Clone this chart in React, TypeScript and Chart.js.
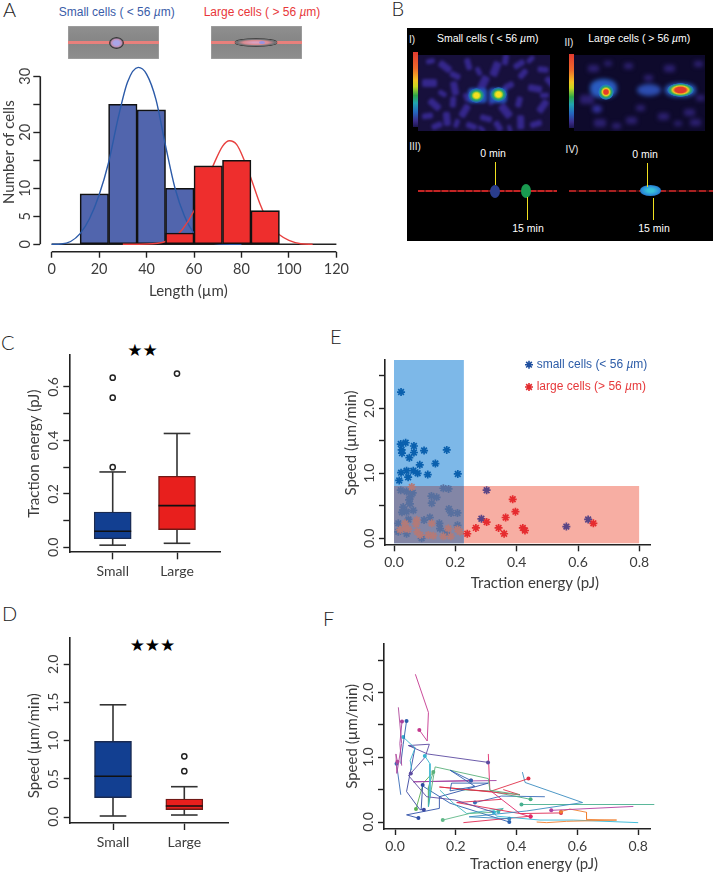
import React, { useEffect, useRef } from 'react';
import { Chart, registerables } from 'chart.js';
import { drawPoint } from 'chart.js/helpers';

Chart.register(...registerables);
Chart.defaults.font.family = 'Lato';

// ---------- Panel A ----------
const smallBins = [[18, 9], [30, 25], [42, 24], [54, 10]];
const largeBins = [[54, 2], [66, 14], [78, 15], [90, 6]];
const smallCurve = [[0, 0], [4, 0.05], [8, 0.5], [12, 1.9], [16, 4.6], [20, 8.8], [24, 14.6], [28, 22.5], [32, 29], [36.5, 31.6], [40, 30.4], [44, 25.8], [48, 17.6], [52, 10], [56, 5], [60, 2], [64, 0.7], [70, 0.1], [80, 0]];
const largeCurve = [[30, 0], [40, 0.05], [48, 0.5], [52, 1.4], [55, 2.6], [60, 6], [64, 10], [68, 14], [72, 17.5], [75, 18.5], [78, 17.8], [81, 15.2], [84, 11.8], [88, 7], [92, 3.4], [96, 1.7], [100, 0.7], [105, 0.1], [110, 0]];
const histX = [0, 20, 40, 60, 80, 100, 120];
const histY = [0, 5, 10, 15, 20, 25, 30];
const histYLabels = [0, 5, 10, 20, 30];

// ---------- Panels C, D ----------
const groups = ['Small', 'Large'];
const energySmall = [0.008, 0.032, 0.06, 0.132, 0.282];
const energyLarge = [0.015, 0.066, 0.156, 0.266, 0.426];
const energySmallOut = [0.3, 0.56, 0.635];
const energyLargeOut = [0.65];
const energyTicks = [0, 0.1, 0.2, 0.3, 0.4, 0.5, 0.6];
const energyLabels = [0, 0.2, 0.4, 0.6];
const speedSmall = [0.013, 0.253, 0.533, 0.99, 1.47];
const speedLarge = [0.026, 0.096, 0.144, 0.236, 0.397];
const speedSmallOut: number[] = [];
const speedLargeOut = [0.6, 0.795];
const speedTicks = [0, 0.5, 1, 1.5, 2];

// ---------- Panel E ----------
const smallStars = [[0.023, 2.25], [0.022, 1.45], [0.038, 1.47], [0.065, 1.42], [0.025, 1.36], [0.026, 1.31], [0.065, 1.32], [0.05, 1.24], [0.098, 1.35], [0.172, 1.36], [0.135, 1.15], [0.084, 1.13], [0.041, 1.04], [0.023, 1.01], [0.063, 1.04], [0.077, 1.0], [0.11, 0.98], [0.208, 0.99], [0.046, 0.94], [0.017, 0.89], [0.022, 0.74], [0.041, 0.72], [0.061, 0.7], [0.054, 0.64], [0.049, 0.59], [0.122, 0.65], [0.139, 0.63], [0.123, 0.54], [0.052, 0.53], [0.161, 0.77], [0.178, 0.76], [0.03, 0.48], [0.026, 0.4], [0.041, 0.41], [0.063, 0.43], [0.179, 0.45], [0.186, 0.39], [0.207, 0.39], [0.117, 0.32], [0.098, 0.28], [0.047, 0.29], [0.148, 0.23], [0.207, 0.2], [0.014, 0.23], [0.15, 0.15], [0.17, 0.08], [0.014, 0.1], [0.041, 0.07], [0.09, 0.0], [0.302, 0.74], [0.285, 0.3], [0.562, 0.18], [0.633, 0.29]];
const largeStars = [[0.058, 0.79], [0.387, 0.6], [0.396, 0.41], [0.364, 0.32], [0.302, 0.25], [0.267, 0.16], [0.341, 0.16], [0.359, 0.07], [0.42, 0.16], [0.427, 0.12], [0.239, 0.07], [0.65, 0.23], [0.036, 0.23], [0.074, 0.28], [0.072, 0.22], [0.123, 0.23], [0.177, 0.15], [0.02, 0.13], [0.047, 0.14], [0.076, 0.1], [0.112, 0.05], [0.128, 0.04], [0.161, 0.03], [0.185, 0.03], [0.207, 0.14], [0.215, 0.1], [0.036, 0.15], [0.085, 0.05]];
const smallZone = [0, 0.228, 2.75];
const largeZone = [0.228, 0.8, 0.804];
const overlapZone = [0, 0.228, 0.804];
const zoneFloor = -0.077;
const legendLabels = ['small cells (< 56 ', 'large cells (> 56 '];
const scatterX = [0, 0.2, 0.4, 0.6, 0.8];
const scatterY = [0, 0.5, 1, 1.5, 2, 2.5];
const scatterYLabels = [0, 1, 2];

// ---------- Panel F ----------
const track01 = [[0.08, 1.42], [0.106, 1.25], [0.11, 1.69], [0.067, 2.28]];
const track02 = [[0.023, 1.55], [0.016, 1.21], [0.022, 0.87]];
const track03 = [[0.008, 0.93], [0.003, 1.05], [0.006, 0.75], [0.022, 1.21], [0.011, 1.77]];
const track04 = [[0.038, 1.56], [0.027, 1.2], [0.019, 0.9]];
const track05 = [[0.005, 0.9], [0.019, 0.42]];
const track06 = [[0.098, 1.02], [0.115, 0.9], [0.115, 0.4], [0.11, 0.24]];
const track07 = [[0.027, 1.31], [0.066, 1.14], [0.05, 0.95], [0.055, 0.8]];
const track08 = [[0.306, 0.92], [0.107, 1.05], [0.044, 1.18], [0.113, 1.2], [0.099, 1.0], [0.052, 0.75]];
const track09 = [[0.052, 0.75], [0.044, 0.72], [0.104, 0.39], [0.197, 0.34], [0.325, 0.15]];
const track10 = [[0.095, 0.19], [0.082, 0.19], [0.038, 0.47], [0.066, 1.15], [0.044, 1.18]];
const track11 = [[0.25, 0.64], [0.181, 0.8], [0.263, 0.55], [0.181, 0.48], [0.186, 0.6], [0.307, 0.6]];
const track12 = [[0.126, 0.77], [0.11, 0.54], [0.11, 0.24], [0.132, 0.85], [0.307, 0.67], [0.312, 0.49], [0.411, 0.42]];
const track13 = [[0.446, 0.08], [0.411, 0.13], [0.312, 0.49], [0.307, 1.05]];
const track14 = [[0.439, 0.67], [0.312, 0.47], [0.146, 0.54], [0.258, 0.49], [0.411, 0.42], [0.356, 0.5]];
const track15 = [[0.376, 0.05], [0.244, 0.08], [0.433, 0.17], [0.617, 0.3], [0.428, 0.61], [0.419, 0.77]];
const track16 = [[0.416, 0.27], [0.853, 0.27]];
const track17 = [[0.514, 0.18], [0.784, 0.24]];
const track18 = [[0.546, 0.16], [0.575, 0.2], [0.63, 0.15], [0.63, 0.04], [0.729, 0.03], [0.564, 0.01], [0.499, -0.01], [0.466, 0.0]];
const track19 = [[0.325, 0.15], [0.334, 0.09], [0.477, 0.03], [0.586, 0.03], [0.8, -0.01]];
const track20 = [[0.546, 0.14], [0.411, 0.13], [0.203, 0.3], [0.35, 0.35]];
const track21 = [[0.446, 0.09], [0.225, -0.01]];
const track22 = [[0.157, 0.03], [0.244, 0.13], [0.323, 0.15], [0.356, 0.2]];
const track23 = [[0.34, 0.16], [0.356, 0.21], [0.236, 0.13], [0.192, 0.29], [0.148, 0.49]];
const track24 = [[0.077, 0.06], [0.038, 0.11], [0.146, 0.21], [0.146, 0.39], [0.307, 0.6]];
const track25 = [[0.091, 0.57], [0.086, 0.19]];
const track26 = [[0.25, 0.64], [0.06, 0.62], [0.334, 0.64]];
const track27 = [[0.069, 0.2], [0.093, 0.6], [0.126, 0.77]];
const track28 = [[0.376, 0.0], [0.181, 0.29], [0.093, 0.55]];
const track29 = [[0.446, 0.35], [0.307, 0.48], [0.203, 0.5]];
const track30 = [[0.263, 0.3], [0.35, 0.4], [0.493, 0.39]];
const trackList = [track01, track02, track03, track04, track05, track06, track07, track08, track09, track10, track11, track12, track13, track14, track15, track16, track17, track18, track19, track20, track21, track22, track23, track24, track25, track26, track27, track28, track29, track30];
const trackColors = ['#c4388e', '#a8409c', '#b0489c', '#2a5caa', '#3a6cb8', '#38b4d0', '#38b4d0', '#5b4aa0', '#5b4aa0', '#3a46a0', '#2f5fae', '#5ab07a', '#e0286a', '#e03048', '#3a8cc0', '#48b090', '#b040a0', '#f08030', '#30b8d8', '#e02850', '#e02850', '#60b888', '#40b8c0', '#3050a8', '#2c4aa0', '#a040a0', '#5ab050', '#2a60b0', '#48b080', '#3a6cb8'];

// ---------- helpers ----------
const INK = '#222';
const TXT = '#3c3c3c';
const nbsp = (n: number) => '\u00a0'.repeat(n);
const fixed1 = (v: number) => v.toFixed(1);

function axisBase(o: any) {
  return {
    type: 'linear', min: o.min, max: o.max, offset: false, beginAtZero: false,
    afterBuildTicks: (s: any) => { s.ticks = o.ticks.map((value: number) => ({ value })); },
    grid: { display: true, offset: false, drawOnChartArea: false, tickLength: o.tickLength, tickWidth: 1.4, tickColor: INK, color: INK },
    border: { display: o.border !== false, color: INK, width: 1.6 },
  };
}
function xAxis(o: any) {
  return {
    ...axisBase(o),
    afterFit: (s: any) => { s.height = o.fit; },
    ticks: { autoSkip: false, minRotation: 0, maxRotation: 0, padding: o.pad, color: TXT, font: { size: o.size || 14 }, callback: o.label },
    title: o.title ? { display: true, text: o.title, color: TXT, font: { size: 15 }, padding: { top: 0, bottom: o.titleGap } } : { display: false },
  };
}
function yAxis(o: any) {
  return {
    ...axisBase(o),
    afterFit: (s: any) => { s.width = o.fit; },
    ticks: { autoSkip: false, minRotation: 90, maxRotation: 90, crossAlign: 'center', padding: o.pad, color: TXT, font: { size: o.size || 14 }, callback: o.label },
    title: { display: true, text: o.title, color: TXT, font: { size: 15 }, padding: { top: o.titleGap, bottom: 0 } },
  };
}
const xr = (px0: number, ppu: number, L: number, R: number) => ({ min: (L - px0) / ppu, max: (R - px0) / ppu });
const yr = (px0: number, ppu: number, T: number, B: number) => ({ min: (px0 - B) / ppu, max: (px0 - T) / ppu });
const pts = (a: number[][]) => a.map(([x, y]) => ({ x, y }));
const segment = (data: any[], color: string, width: number, order: number) => ({ type: 'line', data, borderColor: color, borderWidth: width, pointRadius: 0, order, clip: false });

function whiskerSets(stats: number[], outliers: number[], x: number, halfWidth: number, halfCap: number) {
  const [lo, q1, med, q3, hi] = stats;
  return [
    segment([{ x, y: lo }, { x, y: q1 }], '#333', 1.6, 6),
    segment([{ x, y: q3 }, { x, y: hi }], '#333', 1.6, 6),
    segment([{ x: x - halfCap, y: lo }, { x: x + halfCap, y: lo }], '#333', 1.6, 6),
    segment([{ x: x - halfCap, y: hi }, { x: x + halfCap, y: hi }], '#333', 1.6, 6),
    segment([{ x: x - halfWidth, y: med }, { x: x + halfWidth, y: med }], '#111', 1.6, 3),
    { type: 'line', showLine: false, data: outliers.map((y) => ({ x, y })), pointRadius: 2.6, pointBorderWidth: 1.5, pointBorderColor: '#222', pointBackgroundColor: '#fff', order: 2, clip: false },
  ];
}

const base = (pad: any, scales: any, extra: any = {}) => ({
  responsive: false, animation: false, events: [],
  layout: { padding: pad },
  plugins: { legend: { display: false }, tooltip: { enabled: false } },
  scales, ...extra,
});

// ---------- chart configs ----------
const rAxes = {
  id: 'rAxes',
  afterDatasetsDraw(chart: any) {
    const { ctx, scales: { x, y } } = chart;
    ctx.save();
    ctx.strokeStyle = INK; ctx.lineWidth = 1.6;
    ctx.beginPath();
    ctx.moveTo(x.getPixelForValue(histX[0]), x.top);
    ctx.lineTo(x.getPixelForValue(histX[histX.length - 1]), x.top);
    ctx.moveTo(y.right, y.getPixelForValue(histY[0]));
    ctx.lineTo(y.right, y.getPixelForValue(histY[histY.length - 1]));
    ctx.stroke();
    ctx.restore();
  },
};

function histConfig() {
  const G = { x: 0, y: 40, w: 352, h: 262, L: 40.3, T: 52.6, R: 338, B: 251.7 };
  const bar = (a: number[][], color: string, order: number) => ({
    type: 'bar', data: a.map(([x, v]) => ({ x, y: [0, v] })), backgroundColor: color, borderColor: '#111', borderWidth: 1.6, borderSkipped: false, barPercentage: 1, categoryPercentage: 1, grouped: false, order,
  });
  const curve = (a: number[][], color: string, order: number) => ({
    type: 'line', data: pts(a), borderColor: color, borderWidth: 1.4, pointRadius: 0, cubicInterpolationMode: 'monotone', order, clip: false,
  });
  return {
    G, plugins: [rAxes],
    config: {
      type: 'bar',
      data: { datasets: [
        segment([{ x: 0, y: 0 }, { x: 120, y: 0 }], '#222', 1.5, 8),
        bar(smallBins, '#5165ad', 7),
        curve(smallCurve, '#2b5aa8', 6),
        curve(largeCurve, '#e8403f', 5),
        bar(largeBins, '#ee2e2d', 4),
      ] },
      options: base({ top: G.T - G.y, right: G.x + G.w - G.R, left: 0, bottom: 0 }, {
        x: xAxis({ ...xr(51.7, 2.386, G.L, G.R), ticks: histX, tickLength: 6, pad: 3, fit: G.y + G.h - G.B, border: false, label: (v: number) => String(v), title: 'Length (\u00b5m)', titleGap: 2, size: 14.5 }),
        y: yAxis({ ...yr(244.3, 5.6, G.T, G.B), ticks: histY, tickLength: 7, pad: 0, fit: G.L - G.x, border: false, label: (v: number) => (histYLabels.includes(v) ? String(v) : ''), title: 'Number of cells', titleGap: 0, size: 14.5 }),
      }),
    },
  };
}

function boxConfig(o: any) {
  const G = o.G;
  const boxHalf = 18.5 / o.dx, capHalf = 13.3 / o.dx;
  return {
    G, plugins: [],
    config: {
      type: 'bar',
      data: { datasets: [
        { type: 'bar', data: [{ x: 1, y: [o.a[1], o.a[3]] }, { x: 2, y: [o.b[1], o.b[3]] }], backgroundColor: ['#123f91', '#e81f1d'], borderColor: ['#1a2a50', '#701815'], borderWidth: 1.4, borderSkipped: false, barThickness: 37, order: 5 },
        ...whiskerSets(o.a, o.aOut, 1, boxHalf, capHalf),
        ...whiskerSets(o.b, o.bOut, 2, boxHalf, capHalf),
      ] },
      options: base({ top: G.T - G.y, right: G.x + G.w - G.R, left: 0, bottom: 0 }, {
        x: xAxis({ ...xr(o.x1 - o.dx, o.dx, G.L, G.R), ticks: [1, 2], tickLength: 7, pad: 4, fit: G.y + G.h - G.B, label: (v: number) => groups[v - 1] }),
        y: yAxis({ ...yr(o.y0, o.ppu, G.T, G.B), ticks: o.ticks, tickLength: 6, pad: 0, fit: G.L - G.x, label: o.label, title: o.title, titleGap: o.titleGap }),
      }),
    },
  };
}

const inlineLegend = {
  id: 'inlineLegend',
  afterDraw(chart: any) {
    const { ctx } = chart;
    const rows = [
      { text: legendLabels[0], c: '#2c5ca8', m: '#1f4f9e', y: 19.7 },
      { text: legendLabels[1], c: '#e6393b', m: '#e32b2f', y: 42 },
    ];
    ctx.save();
    ctx.textBaseline = 'middle';
    rows.forEach((r) => {
      ctx.strokeStyle = r.m; ctx.fillStyle = r.m; ctx.lineWidth = 1.6;
      drawPoint(ctx, { pointStyle: 'star', radius: 4, rotation: 0, borderWidth: 1.6 } as any, 189, r.y);
      ctx.fillStyle = r.c;
      ctx.font = '12px "Liberation Sans"';
      ctx.fillText(r.text, 196.7, r.y);
      const w = ctx.measureText(r.text).width;
      ctx.font = 'italic 12px "Liberation Sans"';
      ctx.fillText('\u00b5', 196.7 + w, r.y);
      const w2 = ctx.measureText('\u00b5').width;
      ctx.font = '12px "Liberation Sans"';
      ctx.fillText('m)', 196.7 + w + w2, r.y);
    });
    ctx.restore();
  },
};

function scatterConfig() {
  const G = { x: 340, y: 345, w: 330, h: 250, L: 385, T: 360, R: 650.7, B: 545.3 };
  const zone = (z: number[], color: string, order: number) => ({
    type: 'line', data: [{ x: z[0], y: z[2] }, { x: z[1], y: z[2] }], borderWidth: 0, pointRadius: 0, backgroundColor: color, fill: { value: zoneFloor }, order, clip: false,
  });
  const inOverlap = (p: any) => p.x <= smallZone[1] && p.y <= largeZone[2];
  const stars = (a: number[][], plain: string, mixed: string, outside: string, order: number) => ({
    type: 'line', showLine: false, data: pts(a), pointStyle: 'star', pointRadius: 4, pointBorderWidth: 1.7,
    pointBorderColor: (c: any) => { const p = c.raw; if (!p) return plain; if (inOverlap(p)) return mixed; return p.x > smallZone[1] && p.y <= largeZone[2] ? outside : plain; },
    order, clip: false,
  });
  return {
    G, plugins: [inlineLegend],
    config: {
      type: 'line',
      data: { datasets: [
        zone(smallZone, '#7db8e8', 9),
        zone(largeZone, '#f7aea3', 8),
        zone(overlapZone, '#8386a6', 7),
        stars(smallStars, '#0a60ae', '#58709f', '#5a4585', 6),
        stars(largeStars, '#e62c2f', '#b37a78', '#e62c2f', 5),
      ] },
      options: base({ top: G.T - G.y, right: G.x + G.w - G.R, left: 0, bottom: 0 }, {
        x: xAxis({ ...xr(394, 306.7, G.L, G.R), ticks: scatterX, tickLength: 6, pad: 3, fit: G.y + G.h - G.B, label: fixed1, title: nbsp(9) + 'Traction energy (pJ)', titleGap: 3 }),
        y: yAxis({ ...yr(538.3, 65, G.T, G.B), ticks: scatterY, tickLength: 6, pad: 0, fit: G.L - G.x, label: (v: number) => (scatterYLabels.includes(v) ? fixed1(v) : ''), title: nbsp(5) + 'Speed (\u00b5m/min)', titleGap: 2 }),
      }),
    },
  };
}

function trackConfig() {
  const G = { x: 340, y: 630, w: 330, h: 243, L: 384, T: 643.7, R: 650, B: 829 };
  return {
    G, plugins: [],
    config: {
      type: 'line',
      data: { datasets: trackList.map((t, i) => ({
        data: pts(t), borderColor: trackColors[i], backgroundColor: trackColors[i], borderWidth: 0.9,
        pointRadius: (c: any) => (c.dataIndex === 0 ? 2 : 0), pointBorderWidth: 0, pointBackgroundColor: trackColors[i], clip: false,
      })) },
      options: base({ top: G.T - G.y, right: G.x + G.w - G.R, left: 0, bottom: 0 }, {
        x: xAxis({ ...xr(395, 304, G.L, G.R), ticks: scatterX, tickLength: 6, pad: 3, fit: G.y + G.h - G.B, label: fixed1, title: nbsp(9) + 'Traction energy (pJ)', titleGap: 0 }),
        y: yAxis({ ...yr(822, 64.8, G.T, G.B), ticks: scatterY, tickLength: 6, pad: 0, fit: G.L - G.x, label: (v: number) => (scatterYLabels.includes(v) ? fixed1(v) : ''), title: 'Speed (\u00b5m/min)', titleGap: 3 }),
      }),
    },
  };
}

function Panel({ make }: { make: () => any }) {
  const ref = useRef<HTMLCanvasElement>(null);
  const spec = make();
  useEffect(() => {
    const c = new Chart(ref.current as any, { ...spec.config, plugins: spec.plugins } as any);
    return () => c.destroy();
  }, []);
  const { G } = spec;
  return <canvas ref={ref} width={G.w} height={G.h} style={{ position: 'absolute', left: G.x, top: G.y, width: G.w, height: G.h }} />;
}

// ---------- page decoration ----------
const abs = (x: number, y: number, w: number, h: number, st: any = {}) => ({ position: 'absolute', left: x, top: y, width: w, height: h, ...st });

function Txt({ x, y, color, size, font, children, style }: any) {
  return (
    <div style={{ position: 'absolute', left: x - 150, width: 300, top: y - 15, height: 30, lineHeight: '30px', textAlign: 'center', color, fontSize: size, fontFamily: font || '"Liberation Sans"', whiteSpace: 'pre', ...style }}>
      {children}
    </div>
  );
}
const Letter = ({ x, y, t }: any) => (
  <div style={{ position: 'absolute', left: x, top: y - 12, height: 24, lineHeight: '24px', fontSize: 20, fontFamily: 'Lato', fontWeight: 300, color: '#222' }}>{t}</div>
);

function CellImage({ x, wide }: any) {
  return (
    <div style={abs(x, 26, 90.4, 32.7, { background: 'linear-gradient(#8f8f8f,#858585 50%,#8e8e8e)', overflow: 'hidden', boxShadow: 'inset 0 0 0 .5px #aaa' })}>
      <div style={abs(0, 15.3, 91, 2.4, { background: '#e8807c', filter: 'blur(.3px)' })} />
      {wide
        ? <div style={abs(24, 12.8, 42, 7, { background: 'radial-gradient(closest-side,#d9a0c0 15%,#d88a90 60%,#6f7275 90%)', borderRadius: '50%/50%', boxShadow: '0 -.5px 0 .3px #333, 0 .5px 0 .3px #333' })} />
        : <div style={abs(41.5, 11.5, 13, 10.5, { background: 'radial-gradient(closest-side,#a9a5e8 45%,#c08fb0 80%,#3a3f46)', borderRadius: '50%', boxShadow: '0 0 0 .8px #222' })} />}
      {wide ? <div style={abs(47.5, 15, 6, 3.4, { background: '#9a94df', borderRadius: '50%' })} /> : null}
    </div>
  );
}

const Mu = () => <i>{'\u00b5'}</i>;
const noiseSmall = [[4, 24, 10], [20, 8, 9], [44, 6, 8], [70, 10, 10], [95, 6, 8], [120, 12, 7], [10, 46, 9], [30, 30, 9], [58, 24, 10], [85, 28, 7], [110, 30, 9], [126, 24, 8], [22, 60, 9], [40, 52, 9], [14, 68, 7], [62, 60, 8], [80, 52, 10], [96, 64, 9], [118, 48, 9], [112, 66, 8], [48, 68, 7], [75, 68, 7], [30, 44, 7], [100, 16, 7], [8, 4, 6], [32, 18, 7], [56, 14, 6], [82, 2, 7], [108, 2, 6], [4, 58, 7], [20, 36, 6], [44, 40, 6], [96, 44, 7], [70, 44, 6], [122, 38, 6], [60, 72, 5], [88, 72, 5], [34, 66, 6]];
const noiseLarge = [[14, 10, 7], [50, 8, 6], [90, 10, 7], [120, 6, 6], [6, 40, 9], [20, 64, 8], [52, 62, 7], [84, 58, 7], [116, 64, 7], [70, 20, 6], [110, 54, 7], [38, 68, 6], [30, 6, 5], [100, 66, 5], [62, 50, 6], [122, 40, 6]];

function PanelB() {
  const bar = 'linear-gradient(#e23b30,#ee6a2a 22%,#f3c522 38%,#c8d820 46%,#2ea84a 58%,#21a4b0 68%,#2468c0 80%,#3a2c8a 92%,#1d1650)';
  const spot = (x: number, y: number, w: number, h: number, core: string, rad = '50%') => (
    <div style={abs(x, y, w, h, { borderRadius: rad, background: core })} />
  );
  const Y = (x: number, y: number, h: number) => <div style={abs(x, y, 1.5, h, { background: '#f0e020' })} />;
  const white = { color: '#fff', size: 10.5 };
  const heat = 'radial-gradient(closest-side,#f4e020 28%,#b8d028 42%,#28a868 60%,#2060b8 92%,rgba(40,70,170,0))';
  return (
    <>
      <div style={abs(406.7, 28.3, 306.3, 212.4, { background: '#000' })} />
      <div style={abs(418, 55, 132, 76, { background: '#17103c', overflow: 'hidden' })}>
        <div style={abs(0, 0, 132, 76, { filter: 'blur(1.4px)' })}>
          {noiseSmall.map(([x, y, r], i) => <div key={i} style={abs(x, y, r * 1.5, r * 0.8, { background: '#35278c', borderRadius: 2, transform: `rotate(${i * 37}deg)` })} />)}
          <div style={abs(50, 33, 19, 15, { background: '#2450b8', borderRadius: 4 })} />
          <div style={abs(71, 33, 18, 15, { background: '#2450b8', borderRadius: 4 })} />
        </div>
        {spot(50, 33, 17, 15, heat)}
        {spot(71.5, 32, 17, 15, heat)}
      </div>
      <div style={abs(574, 55, 131, 76, { background: '#0e0a2c', overflow: 'hidden' })}>
        <div style={abs(0, 0, 131, 76, { filter: 'blur(2px)' })}>
          {noiseLarge.map(([x, y, r], i) => <div key={i} style={abs(x, y, r * 1.5, r, { background: '#2c2070', borderRadius: 2 })} />)}
          <div style={abs(63, 29, 24, 12, { background: '#2c4db0', borderRadius: '50%' })} />
          <div style={abs(18, 50, 10, 8, { background: '#33309a', borderRadius: '50%' })} />
          <div style={abs(16, 24, 27, 19, { background: '#2a5cc0', borderRadius: '45%' })} />
          <div style={abs(91, 28, 31, 14, { background: '#2a5cc0', borderRadius: '45%' })} />
        </div>
        {spot(24, 29, 16, 16, 'radial-gradient(closest-side,#e63a2a 28%,#f0d020 45%,#2ea860 65%,#2078c8 90%,rgba(40,60,160,0))')}
        {spot(93, 28, 27, 14, 'radial-gradient(closest-side,#e23a2c 40%,#f0c820 58%,#38b060 74%,#2070c0 94%,rgba(40,60,160,0))')}
      </div>
      <div style={abs(413, 52, 5, 75, { background: bar })} />
      <div style={abs(569, 54, 4.5, 74, { background: bar })} />

      <Txt x={487.7} y={37.7} {...white}>Small cells ( {'<'} 56 <Mu />m)</Txt>
      <Txt x={639.3} y={37.7} {...white}>Large cells ( {'>'} 56 <Mu />m)</Txt>
      <Txt x={412} y={40} color="#eee" size={10}>I)</Txt>
      <Txt x={569} y={43} color="#eee" size={10}>II)</Txt>
      <Txt x={415} y={147} color="#eee" size={10}>III)</Txt>
      <Txt x={572} y={150} color="#eee" size={10}>IV)</Txt>
      <Txt x={493} y={152.7} {...white}>0 min</Txt>
      <Txt x={528} y={227.7} {...white}>15 min</Txt>
      <Txt x={645} y={154} {...white}>0 min</Txt>
      <Txt x={654} y={227.7} {...white}>15 min</Txt>

      <div style={abs(418, 190, 139, 2, { background: 'repeating-linear-gradient(90deg,#c42424 0 6px,#7a1818 6px 8px)' })} />
      <div style={abs(569, 190, 144, 2, { background: 'repeating-linear-gradient(90deg,#a82020 0 7px,#3a0c0c 7px 10px)' })} />
      {spot(490, 185, 10, 13, '#2a3d8c')}
      {spot(521, 184, 10, 14, '#1a9a50')}
      {spot(640, 185, 21, 10.5, 'radial-gradient(closest-side,#38c0d8 30%,#2a8fd8 80%,#2478c8)')}
      {Y(494.5, 162, 23)}
      {Y(526.5, 197, 23)}
      {Y(646.5, 163, 24)}
      {Y(652.5, 198, 22)}
    </>
  );
}

export default function App() {
  const G1 = { x: 0, y: 340, w: 240, h: 250, L: 69.3, T: 355, R: 220, B: 552.3 };
  const G2 = { x: 0, y: 625, w: 245, h: 240, L: 69.7, T: 637.7, R: 228, B: 823 };
  const makeC = () => boxConfig({ G: G1, a: energySmall, aOut: energySmallOut, b: energyLarge, bOut: energyLargeOut, x1: 112.7, dx: 64.3, y0: 547.3, ppu: 267.2, ticks: energyTicks, label: (v: number) => (energyLabels.includes(v) ? fixed1(v) : ''), title: 'Traction energy (pJ)', titleGap: 25 });
  const makeD = () => boxConfig({ G: G2, a: speedSmall, aOut: speedSmallOut, b: speedLarge, bOut: speedLargeOut, x1: 113, dx: 71.3, y0: 817, ppu: 76.33, ticks: speedTicks, label: fixed1, title: 'Speed (\u00b5m/min)' + nbsp(8), titleGap: 25 });
  return (
    <div style={{ position: 'absolute', left: 0, top: 0, width: 713, height: 873, background: '#fff', overflow: 'hidden' }}>
      <Letter x={3} y={9} t="A" />
      <Letter x={391.5} y={8} t="B" />
      <Letter x={1} y={342} t="C" />
      <Letter x={2} y={613} t="D" />
      <Letter x={330} y={336} t="E" />
      <Letter x={323} y={618} t="F" />
      <Txt x={116.7} y={12} color="#3a5ca8" size={12}>Small cells ( {'<'} 56 <Mu />m)</Txt>
      <Txt x={262} y={12} color="#e8373a" size={12}>Large cells ( {'>'} 56 <Mu />m)</Txt>
      <CellImage x={68.3} />
      <CellImage x={211.3} wide />
      <PanelB />
      <Txt x={142.5} y={350} color="#000" size={17} font="DejaVu Sans">{'\u2605\u2605'}</Txt>
      <Txt x={152.5} y={645} color="#000" size={17} font="DejaVu Sans">{'\u2605\u2605\u2605'}</Txt>
      <Panel make={histConfig} />
      <Panel make={makeC} />
      <Panel make={makeD} />
      <Panel make={scatterConfig} />
      <Panel make={trackConfig} />
    </div>
  );
}
